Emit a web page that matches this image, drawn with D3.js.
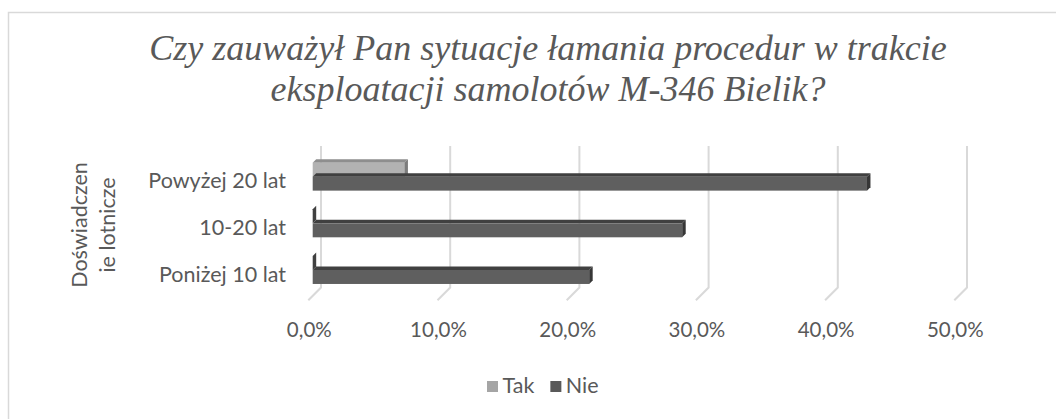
<!DOCTYPE html>
<html>
<head>
<meta charset="utf-8">
<script src="https://cdn.jsdelivr.net/npm/d3@7"></script>
<style>
  body { margin: 0; background: #fff; }
  svg { display: block; }
</style>
</head>
<body>
<div class="chart"></div>
<script>
var width = 1056, height = 419;

// data
var categories = ['Powyżej 20 lat', '10-20  lat', 'Poniżej 10 lat'];
var seriesNames = ['Tak', 'Nie'];
var takValues = [7.1, 0, 0];
var nieValues = [42.9, 28.6, 21.4];
var xTicks = [0, 10, 20, 30, 40, 50];
var titleLines = ['Czy zauważył Pan sytuacje łamania procedur w trakcie', 'eksploatacji samolotów M-346 Bielik?'];
var yTitleLines = ['Doświadczen', 'ie lotnicze'];

/*  ======== style ============= */
var textColor = '#595959';
var gridColor = '#d9d9d9';
var faceColors = { Tak: ['#b2b2b2', '#8e8e8e', '#7c7c7c'], Nie: ['#5f5f5f', '#404040', '#363636'] };
var legendColors = { Tak: '#a5a5a5', Nie: '#595959' };
var floorDepth = 12.7, barInset = 4.4, barDepth = 3.5;
var plotTop = 146, wallBottom = 287.5;
var labelFont = 'Lato', labelSize = 21.5;
/*  ======== style ============= */

var svg = d3.select('.chart').append('svg')
  .attr('width', width)
  .attr('height', height)
  .style('white-space', 'pre');

// chart border
svg.append('rect')
  .attr('x', 8.5).attr('y', 12.5)
  .attr('width', width + 20).attr('height', height + 20)
  .attr('fill', 'none')
  .attr('stroke', gridColor)
  .attr('stroke-width', 1.5);

// front-plane scale (floor front edge)
var x = d3.scaleLinear().domain([0, 50]).range([308.3, 954.3]);

var y = d3.scaleBand().domain(categories).range([153.3, 293.3])
  .paddingInner(0.4).paddingOuter(0.2);
var ySub = d3.scaleBand().domain(seriesNames).range([0, y.bandwidth()]);

// gridlines: back wall + floor diagonal
var grid = svg.append('g');
xTicks.forEach(function(t){
  var xb = x(t) + floorDepth;
  grid.append('path')
    .attr('d', 'M' + xb + ',' + plotTop + 'L' + xb + ',' + wallBottom +
               'L' + x(t) + ',' + (wallBottom + floorDepth))
    .attr('fill', 'none')
    .attr('stroke', gridColor)
    .attr('stroke-width', 2);
});

// tick labels
svg.append('g').selectAll('text').data(xTicks).enter().append('text')
  .attr('x', function(d){ return x(d) + 1; })
  .attr('y', 337)
  .attr('text-anchor', 'middle')
  .attr('font-family', labelFont)
  .attr('font-size', 20.5)
  .attr('fill', textColor)
  .text(function(d){ return d.toFixed(1).replace('.', ',') + '%'; });

// bars (3D: front, top, side)
var rows = [];
categories.forEach(function(c, i){
  rows.push({ cat: c, s: 'Tak', v: takValues[i] });
  rows.push({ cat: c, s: 'Nie', v: nieValues[i] });
});

var xBar = function(v){ return x(v) + barInset; };
var bars = svg.append('g');
rows.forEach(function(r){
  var y0 = y(r.cat) + ySub(r.s);
  var h = ySub.bandwidth();
  var x0 = xBar(0), x1 = xBar(r.v);
  var d = barDepth;
  // top face
  bars.append('path')
    .attr('d', 'M' + x0 + ',' + y0 + 'L' + (x0 + d) + ',' + (y0 - d) + 'L' + (x1 + d) + ',' + (y0 - d) + 'L' + x1 + ',' + y0 + 'Z')
    .attr('fill', faceColors[r.s][1]);
  // front face
  bars.append('rect')
    .attr('x', x0).attr('y', y0)
    .attr('width', x1 - x0).attr('height', h)
    .attr('fill', faceColors[r.s][0]);
  // side face
  bars.append('path')
    .attr('d', 'M' + x1 + ',' + y0 + 'L' + (x1 + d) + ',' + (y0 - d) + 'L' + (x1 + d) + ',' + (y0 + h - d) + 'L' + x1 + ',' + (y0 + h) + 'Z')
    .attr('fill', r.v === 0 ? faceColors.Nie[1] : faceColors[r.s][2]);
});

// category labels
svg.append('g').selectAll('text').data(categories).enter().append('text')
  .attr('x', 286)
  .attr('y', function(d){ return y(d) + y.bandwidth() / 2 + 11.6; })
  .attr('text-anchor', 'end')
  .attr('font-family', labelFont)
  .attr('font-size', labelSize)
  .attr('fill', textColor)
  .text(function(d){ return d; });

// y axis title
var yTitle = svg.append('text')
  .attr('transform', 'translate(86.7,225) rotate(-90)')
  .attr('text-anchor', 'middle')
  .attr('font-family', labelFont)
  .attr('font-size', labelSize)
  .attr('fill', textColor);
yTitleLines.forEach(function(t, i){
  yTitle.append('tspan').attr('x', 0).attr('dy', i === 0 ? 0 : 28.3).text(t);
});

// title
svg.append('g').selectAll('text').data(titleLines).enter().append('text')
  .attr('x', 548)
  .attr('y', function(d, i){ return 60 + i * 41; })
  .attr('text-anchor', 'middle')
  .attr('font-family', 'Liberation Serif')
  .attr('font-style', 'italic')
  .attr('font-size', 36)
  .attr('fill', textColor)
  .text(function(d){ return d; });

// legend
var legend = svg.append('g').attr('transform', 'translate(487,381)');
var lx = 0;
seriesNames.forEach(function(s){
  var g = legend.append('g').attr('transform', 'translate(' + lx + ',0)');
  g.append('rect').attr('width', 11).attr('height', 11).attr('fill', legendColors[s]);
  var t = g.append('text').attr('x', 15.5).attr('y', 12)
    .attr('font-family', labelFont).attr('font-size', labelSize)
    .attr('fill', textColor).text(s);
  lx += 15.5 + t.node().getComputedTextLength() + 16;
});
</script>
</body>
</html>
